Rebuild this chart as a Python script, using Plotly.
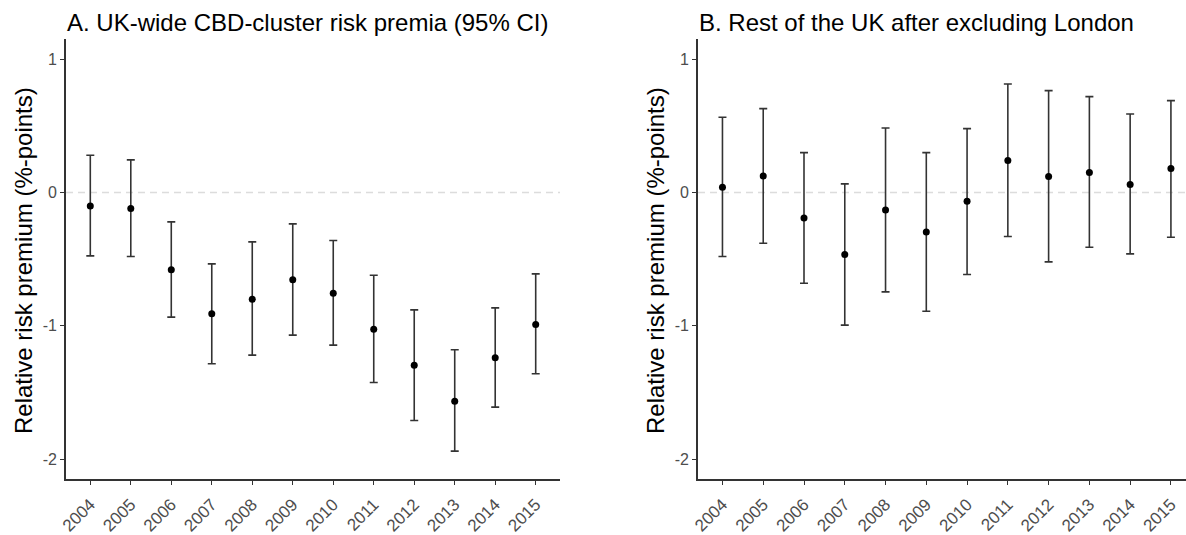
import plotly.graph_objects as go

years = [str(y) for y in range(2004, 2016)]

# Panel A: UK-wide CBD-cluster risk premia with 95% CI
a_est = [-0.10, -0.12, -0.58, -0.91, -0.80, -0.655, -0.755, -1.025, -1.295, -1.565, -1.24, -0.99]
a_low = [-0.475, -0.48, -0.935, -1.285, -1.22, -1.07, -1.145, -1.425, -1.71, -1.94, -1.61, -1.36]
a_high = [0.28, 0.245, -0.22, -0.535, -0.37, -0.235, -0.36, -0.62, -0.88, -1.18, -0.865, -0.61]

# Panel B: rest of the UK, London excluded
b_est = [0.04, 0.125, -0.19, -0.465, -0.13, -0.295, -0.065, 0.24, 0.12, 0.15, 0.06, 0.18]
b_low = [-0.48, -0.38, -0.68, -0.995, -0.745, -0.89, -0.615, -0.33, -0.52, -0.41, -0.46, -0.335]
b_high = [0.565, 0.63, 0.30, 0.065, 0.485, 0.30, 0.48, 0.815, 0.765, 0.72, 0.59, 0.69]

titles = ["A. UK-wide CBD-cluster risk premia (95% CI)",
          "B. Rest of the UK after excluding London"]
y_title = "Relative risk premium (%-points)"

FONT = "Liberation Sans, Arial, sans-serif"
AXIS_COL = "#333333"
TICK_COL = "#4d4d4d"

W, H = 1186, 535
ydom = [0.1045, 0.9265]
xdoms = [[66 / W, 560 / W], [698 / W, 1.0]]
xranges = [[-0.6, 11.6], [-0.6, 11.37]]

fig = go.Figure()

panels = [(a_est, a_low, a_high), (b_est, b_low, b_high)]
for i, (est, low, high) in enumerate(panels):
    sfx = "" if i == 0 else "2"
    fig.add_trace(go.Scatter(
        x=list(range(len(years))), y=est,
        mode="markers",
        marker=dict(color="black", size=7),
        error_y=dict(type="data", symmetric=False,
                     array=[h - e for h, e in zip(high, est)],
                     arrayminus=[e - l for e, l in zip(est, low)],
                     color=AXIS_COL, thickness=1.6, width=4),
        xaxis="x" + sfx, yaxis="y" + sfx,
        showlegend=False, hoverinfo="skip",
    ))
    # dashed reference line at zero
    fig.add_shape(type="line", xref=f"x{sfx} domain", yref="y" + sfx,
                  x0=0, x1=1, y0=0, y1=0, layer="below",
                  line=dict(color="#dcdcdc", width=1.5, dash="7px,5px"))
    # panel title
    fig.add_annotation(text=titles[i], xref=f"x{sfx} domain", yref="paper",
                       x=0, xshift=-1, y=1 - 23 / H, xanchor="left", yanchor="middle",
                       showarrow=False, font=dict(family=FONT, size=24, color="black"))
    # y-axis title
    fig.add_annotation(text=y_title, xref="paper", yref="paper",
                       x=(23 if i == 0 else 655) / W, y=1 - 261 / H,
                       xanchor="center", yanchor="middle", textangle=-90,
                       showarrow=False, font=dict(family=FONT, size=24, color="black"))

axis_common = dict(showline=True, linecolor=AXIS_COL, linewidth=1.6,
                   ticks="outside", ticklen=4, tickwidth=1.2, tickcolor=AXIS_COL,
                   showgrid=False, zeroline=False, automargin=False)

for i in range(2):
    sfx = "" if i == 0 else "2"
    fig.update_layout({
        "xaxis" + sfx: dict(axis_common, domain=xdoms[i], range=xranges[i],
                            tickmode="array", tickvals=list(range(len(years))),
                            ticktext=years, tickangle=-45, anchor="y" + sfx,
                            ticklabelstandoff=3,
                            tickfont=dict(family=FONT, size=17, color=TICK_COL)),
        "yaxis" + sfx: dict(axis_common, domain=ydom, range=[-2.15, 1.15],
                            tickmode="array", tickvals=[-2, -1, 0, 1],
                            ticktext=["-2", "-1", "0", "1"], anchor="x" + sfx,
                            tickfont=dict(family=FONT, size=16, color=TICK_COL)),
    })

fig.update_layout(width=W, height=H, margin=dict(l=0, r=0, t=0, b=0),
                  plot_bgcolor="white", paper_bgcolor="white",
                  font=dict(family=FONT))

fig.write_html("out.html")
